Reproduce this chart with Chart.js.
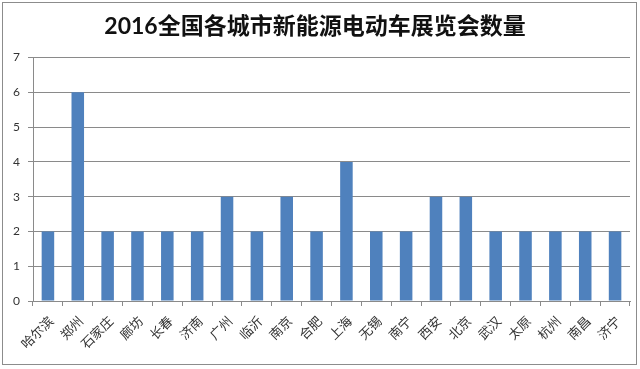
<!DOCTYPE html>
<html><head><meta charset="utf-8">
<script src="https://cdn.jsdelivr.net/npm/chart.js@4"></script>
<style>html,body{margin:0;padding:0;background:#fff;}#wrap{width:640px;height:369px;}</style>
</head><body><div id="wrap"><canvas id="c" width="640" height="369"></canvas></div>
<script>
const titleText = '2016全国各城市新能源电动车展览会数量';
const categories = ['哈尔滨','郑州','石家庄','廊坊','长春','济南','广州','临沂','南京','合肥','上海','无锡','南宁','西安','北京','武汉','太原','杭州','南昌','济宁'];
const counts = [2,6,2,2,2,2,3,2,3,2,4,2,2,3,3,2,2,2,2,2];
const yTicks = [0,1,2,3,4,5,6,7];

const borderPlugin = {
  id: 'outerBorder',
  afterDraw(chart) {
    const ctx = chart.ctx;
    ctx.save();
    ctx.strokeStyle = '#8c8c8c';
    ctx.lineWidth = 1;
    ctx.strokeRect(2.5, 2.5, 634, 362);
    ctx.restore();
  }
};

new Chart(document.getElementById('c'), {
  type: 'bar',
  data: {
    labels: categories,
    datasets: [{ data: counts, backgroundColor: '#4F81BD', borderWidth: 0, barPercentage: 0.42, categoryPercentage: 1 }]
  },
  options: {
    responsive: false,
    animation: false,
    layout: { padding: { left: 0, right: 10, top: 0, bottom: 0 } },
    plugins: {
      legend: { display: false },
      tooltip: { enabled: false },
      title: {
        display: true, text: titleText, color: '#111',
        font: { family: 'Lato, "Noto Sans CJK SC"', size: 23, weight: 'bold' },
        padding: { top: 13, bottom: 17 }
      }
    },
    scales: {
      y: {
        min: 0, max: 7,
        afterBuildTicks(axis) { axis.ticks = yTicks.map(v => ({ value: v })); },
        afterFit(axis) { axis.width = 33; },
        ticks: { color: '#333', padding: 8, font: { family: 'Lato, "Noto Sans"', size: 12 } },
        grid: { color: '#8a8a8a', tickLength: 5, tickColor: '#8a8a8a' },
        border: { color: '#8a8a8a' }
      },
      x: {
        afterFit(axis) { axis.height = 68; },
        ticks: { color: '#333', maxRotation: 45, minRotation: 45, autoSkip: false, padding: 7, labelOffset: 3,
          font: { family: '"Noto Sans CJK SC"', size: 13 } },
        grid: { offset: true, drawOnChartArea: false, tickLength: 5, tickColor: '#8a8a8a' },
        border: { color: '#8a8a8a' }
      }
    }
  },
  plugins: [borderPlugin]
});
</script></body></html>
